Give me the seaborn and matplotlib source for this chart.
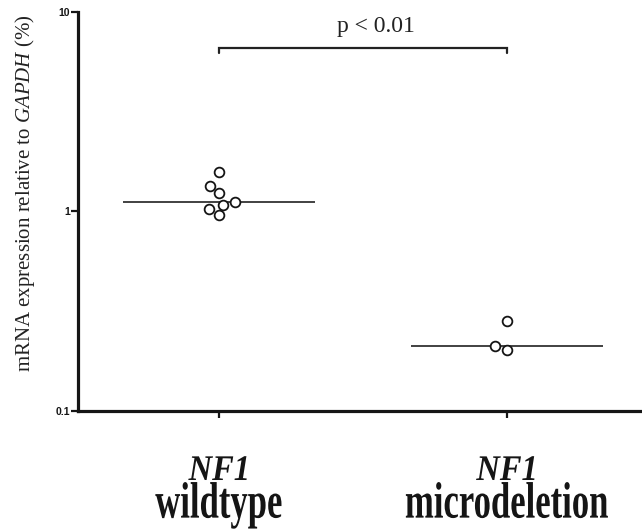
import numpy as np
import pandas as pd
import matplotlib
matplotlib.use("Agg")
import matplotlib.pyplot as plt
import matplotlib.patheffects as pe
from matplotlib.transforms import Affine2D
from matplotlib.ticker import NullLocator, FixedLocator, FixedFormatter
import seaborn as sns

# ---- data ----
categories = ["wildtype", "microdeletion"]
gene = "NF1"
wildtype_values = [1.575, 1.345, 1.227, 1.08, 1.11, 1.02, 0.952]
microdeletion_values = [0.281, 0.201, 0.211]
y_ticks = [0.1, 1, 10]
y_tick_labels = ["0.1", "1", "10"]
ylabel_pre = "mRNA expression relative to "
ylabel_gene = "GAPDH"
ylabel_post = " (%)"
p_text = "p < 0.01"
bracket_groups = (0, 1)

df = pd.DataFrame({
    "group": [categories[0]] * len(wildtype_values) + [categories[1]] * len(microdeletion_values),
    "value": wildtype_values + microdeletion_values,
})

sns.set_theme(style="ticks")
plt.rcParams["font.family"] = ["Liberation Serif", "DejaVu Serif"]
plt.rcParams["mathtext.fontset"] = "custom"
plt.rcParams["mathtext.rm"] = "Liberation Serif"
plt.rcParams["mathtext.it"] = "Liberation Serif:italic"
plt.rcParams["mathtext.bf"] = "Liberation Serif:bold"


class Reshape(pe.AbstractPathEffect):
    """Scale text glyphs around their horizontal centre and baseline."""
    def __init__(self, sx, sy):
        super().__init__()
        self.sx = sx
        self.sy = sy

    def draw_path(self, renderer, gc, tpath, affine, rgbFace=None):
        ext = tpath.get_extents()
        cx = (ext.x0 + ext.x1) / 2.0
        t = Affine2D().translate(-cx, 0).scale(self.sx, self.sy).translate(cx, 0) + affine
        renderer.draw_path(gc, tpath, t, rgbFace)


fig = plt.figure(figsize=(6.42, 5.31), dpi=100)
ax = fig.add_axes([78 / 642, (531 - 410.7) / 531, 1 - 78 / 642, 399 / 531])

ink = "#151515"

sns.boxplot(
    data=df, x="group", y="value", order=categories, ax=ax, log_scale=True,
    showbox=False, showcaps=False, showfliers=False,
    whiskerprops={"visible": False},
    medianprops={"color": "#333333", "linewidth": 1.3},
    width=0.667,
)
sns.swarmplot(
    data=df, x="group", y="value", order=categories, ax=ax, log_scale=True,
    color="white", edgecolor=ink, linewidth=1.3, size=7, zorder=5,
)

ax.set_yscale("log")
ax.set_ylim(0.1, 10)
ax.set_xlim(-0.49, 1.47)
ax.yaxis.set_major_locator(FixedLocator(y_ticks))
ax.yaxis.set_major_formatter(FixedFormatter(y_tick_labels))
ax.yaxis.set_minor_locator(NullLocator())

for s in ["top", "right"]:
    ax.spines[s].set_visible(False)
for s in ["left", "bottom"]:
    ax.spines[s].set_linewidth(2.3)
    ax.spines[s].set_color(ink)

ax.tick_params(axis="y", length=5, width=1.6, pad=0.8, color=ink, labelsize=7.5,
               labelcolor=ink)
ax.tick_params(axis="x", length=5, width=1.6, color=ink, labelbottom=False)
for lab in ax.get_yticklabels():
    lab.set_fontfamily("Liberation Sans")
    lab.set_fontweight("bold")

ax.set_xlabel("")
ax.set_ylabel(ylabel_pre + r"$\mathit{" + ylabel_gene + "}$" + ylabel_post,
              fontsize=15, color="#222222")
ax.yaxis.set_label_coords(-0.073, 0.546)

# category labels
xt = ax.get_xaxis_transform()
for i, cat in enumerate(categories):
    ax.text(i, -0.1737, gene, transform=xt, ha="center", va="baseline",
            fontsize=20, fontstyle="italic", fontweight="bold", color=ink,
            path_effects=[Reshape(1.17, 1.3)], clip_on=False)
    ax.text(i, -0.268, cat, transform=xt, ha="center", va="baseline",
            fontsize=26, fontweight="bold", color=ink,
            path_effects=[Reshape(0.96, 1.42)], clip_on=False)

# significance bracket
b0, b1 = bracket_groups
ax.plot([b0, b0, b1, b1], [0.896, 0.91, 0.91, 0.896], transform=xt,
        color="#222222", lw=1.6, clip_on=False, solid_joinstyle="miter")
ax.text((b0 + b1) / 2 + 0.044, 0.95, p_text, transform=xt, ha="center",
        va="baseline", fontsize=17, color="#222222")

fig.savefig("out.png", dpi=100)
